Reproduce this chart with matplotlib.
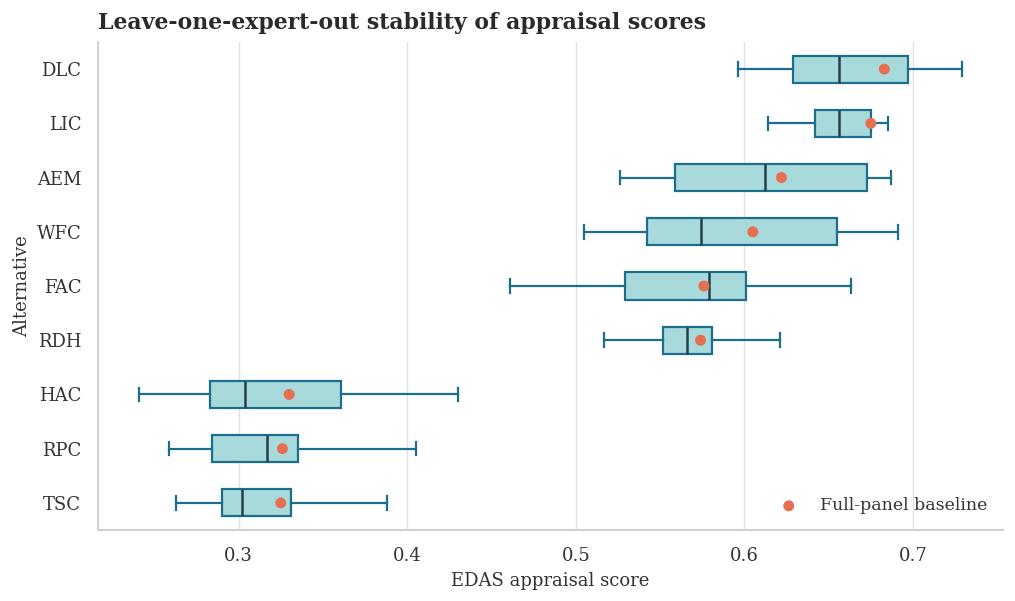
import matplotlib
matplotlib.use("Agg")
import matplotlib.pyplot as plt

alternatives = ["DLC", "LIC", "AEM", "WFC", "FAC", "RDH", "HAC", "RPC", "TSC"]
whisker_low = [0.596, 0.614, 0.526, 0.505, 0.461, 0.517, 0.241, 0.259, 0.263]
q1 = [0.629, 0.642, 0.559, 0.542, 0.529, 0.552, 0.283, 0.284, 0.290]
median = [0.656, 0.656, 0.612, 0.574, 0.579, 0.566, 0.304, 0.317, 0.302]
q3 = [0.697, 0.675, 0.673, 0.655, 0.601, 0.581, 0.361, 0.335, 0.331]
whisker_high = [0.729, 0.685, 0.687, 0.691, 0.663, 0.621, 0.430, 0.405, 0.388]
baseline = [0.683, 0.675, 0.622, 0.605, 0.576, 0.574, 0.330, 0.326, 0.325]

plt.rcParams['font.family'] = ['DejaVu Serif']

fig = plt.figure(figsize=(10.15, 6.01), dpi=100)
ax = fig.add_axes([98/1015, 1 - 530/601, (1003-98)/1015, (530-42)/601])

edge = "#1c6f8c"
stats = []
for i, a in enumerate(alternatives):
    stats.append(dict(label=a, whislo=whisker_low[i], q1=q1[i], med=median[i],
                      q3=q3[i], whishi=whisker_high[i], fliers=[]))
positions = list(range(len(alternatives)))
ax.bxp(stats, positions=positions, vert=False, widths=0.5, patch_artist=True,
       showfliers=False,
       boxprops=dict(facecolor="#a8dadc", edgecolor=edge, linewidth=1.6),
       whiskerprops=dict(color=edge, linewidth=1.6),
       capprops=dict(color=edge, linewidth=1.6),
       medianprops=dict(color="#253f4b", linewidth=1.8))
ax.scatter(baseline, positions, s=62, color="#e76f51", zorder=5,
           label="Full-panel baseline", edgecolors="none")

ax.set_ylim(len(alternatives) - 0.5, -0.5)
ax.set_yticks(positions)
ax.set_yticklabels(alternatives)
ax.set_xticks([0.3, 0.4, 0.5, 0.6, 0.7])
ax.set_xticklabels(["0.3", "0.4", "0.5", "0.6", "0.7"])
ax.margins(x=0.05)

ax.grid(axis="x", color="#dde3ec", linewidth=1.0)
ax.grid(axis="y", visible=False)
ax.set_axisbelow(True)
for s in ["top", "right"]:
    ax.spines[s].set_visible(False)
for s in ["left", "bottom"]:
    ax.spines[s].set_color("#cccccc")
    ax.spines[s].set_linewidth(1.3)
ax.tick_params(axis="both", length=0, labelsize=13, labelcolor="#333333", pad=12)

ax.set_xlabel("EDAS appraisal score", fontsize=13, color="#333333", labelpad=5)
ax.set_ylabel("Alternative", fontsize=13, color="#333333", labelpad=4)
ax.set_title("Leave-one-expert-out stability of appraisal scores", loc="left",
             fontsize=15.8, fontweight="bold", color="#2a2a2a", pad=9)

leg = ax.legend(loc="lower right", frameon=False, fontsize=12.5, handletextpad=0.8)
for t in leg.get_texts():
    t.set_color("#333333")

fig.savefig("out.png", dpi=100)
